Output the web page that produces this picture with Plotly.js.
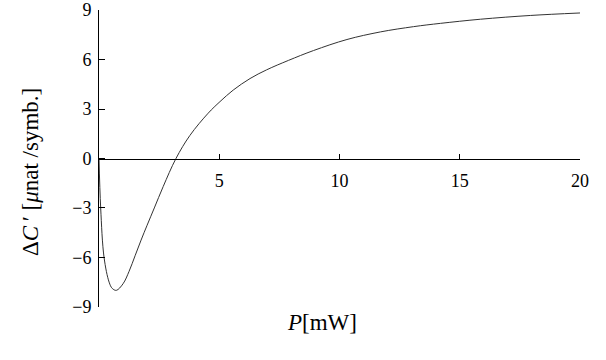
<!DOCTYPE html>
<html>
<head>
<meta charset="utf-8">
<script src="https://cdn.plot.ly/plotly-3.0.1.min.js"></script>
<style>
  html, body { margin: 0; padding: 0; background: #fff; }
  #chart { width: 606px; height: 360px; }
</style>
</head>
<body>
<div id="chart"></div>
<script>
// values
const powerMW = [0, 0.07, 0.21, 0.42, 0.55, 0.72, 1.0, 1.25, 1.5, 1.75, 2.0, 2.3, 2.67, 3.2, 3.78, 4.54, 5.03, 5.58, 6.28, 6.97, 7.875, 8.92, 10.31, 11.7, 13.08, 14.2, 15.86, 17.95, 20];
const deltaC = [0, -3.0, -6.0, -7.5, -7.88, -8.0, -7.6, -6.85, -5.9, -4.95, -4.05, -3.0, -1.7, 0, 1.4, 2.75, 3.45, 4.15, 4.85, 5.38, 5.95, 6.55, 7.22, 7.68, 8.0, 8.2, 8.45, 8.68, 8.83];

const xTicks = [5, 10, 15, 20];
const yTicks = [-9, -6, -3, 0, 3, 6, 9];
const yTickText = yTicks.map(v => v < 0 ? '\u2212' + Math.abs(v) : String(v));

const serif = '"Liberation Serif", "Times New Roman", serif';

const trace = {
    x: powerMW,
    y: deltaC,
    type: 'scatter',
    mode: 'lines',
    line: { color: '#333', width: 1, shape: 'spline', smoothing: 1 },
    hoverinfo: 'skip',
};

const layout = {
    width: 606,
    height: 360,
    margin: { l: 99, r: 26, t: 10, b: 53 },
    paper_bgcolor: '#fff',
    plot_bgcolor: '#fff',
    showlegend: false,
    font: { family: serif, color: '#000', size: 18 },
    xaxis: {
        range: [0, 20],
        anchor: 'free',
        position: 0.5,
        showline: true,
        linecolor: '#000',
        linewidth: 1,
        showgrid: false,
        zeroline: false,
        ticks: 'inside',
        ticklen: 5,
        tickcolor: '#000',
        tickvals: xTicks,
        ticklabelstandoff: 6,
        tickfont: { family: serif, size: 18 },
    },
    yaxis: {
        range: [-9.01, 9.01],
        showline: true,
        linecolor: '#000',
        linewidth: 1,
        showgrid: false,
        zeroline: false,
        ticks: 'inside',
        ticklen: 6,
        tickcolor: '#000',
        tickvals: yTicks,
        ticktext: yTickText,
        ticklabelstandoff: 3,
        tickfont: { family: serif, size: 18 },
    },
    annotations: [
        {
            text: '<i>P</i>[mW]',
            xref: 'paper', yref: 'paper',
            x: (322 - 99) / 481, y: (360 - 53 - 322) / 297,
            xanchor: 'center', yanchor: 'middle',
            showarrow: false,
            font: { family: serif, size: 23, color: '#000' },
        },
        {
            text: '\u0394<i>C</i>\u2009\u2032 [<i>\u03bc</i>nat /symb.]',
            xref: 'paper', yref: 'paper',
            x: (30 - 99) / 481, y: (307 - 172) / 297,
            xanchor: 'center', yanchor: 'middle',
            textangle: -90,
            showarrow: false,
            font: { family: serif, size: 23, color: '#000' },
        },
    ],
};

Plotly.newPlot('chart', [trace], layout, { displayModeBar: false, staticPlot: true });
</script>
</body>
</html>
